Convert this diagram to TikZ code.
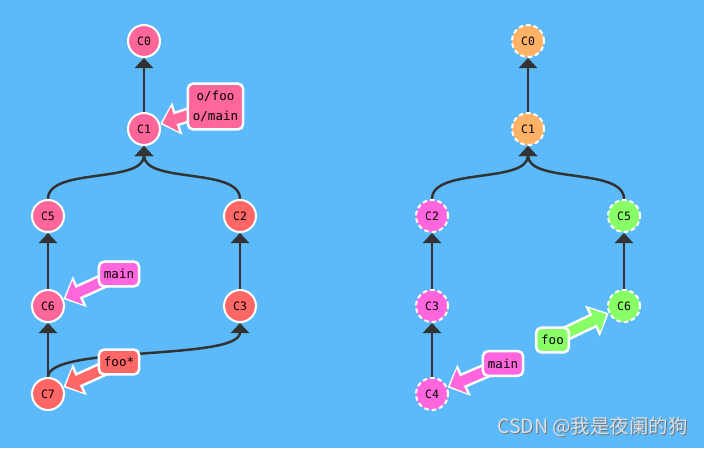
\documentclass[tikz,border=0pt]{standalone}
\usepackage{fontspec}
\setmonofont{DejaVu Sans Mono}
\newfontfamily\cjkfont{Noto Sans CJK SC}
\usetikzlibrary{arrows.meta,positioning}
\definecolor{sky}{HTML}{5DBAFA}
\definecolor{pinkc}{HTML}{FF6699}
\definecolor{redc}{HTML}{FF6666}
\definecolor{orangec}{HTML}{FFB266}
\definecolor{magc}{HTML}{FF66DD}
\definecolor{greenc}{HTML}{88FF66}
\definecolor{linkc}{HTML}{333333}
\definecolor{wmc}{HTML}{D8E0E8}
\pgfdeclarelayer{bg}
\pgfdeclarelayer{links}
\pgfsetlayers{bg,links,main}
\tikzstyle{commit}=[circle,draw=white,line width=2pt,minimum size=32pt,inner sep=0pt,font=\ttfamily\fontsize{11.5}{12}\selectfont]
\tikzstyle{remote}=[commit,dash pattern=on 4.5pt off 3pt]
\tikzstyle{branch}=[rectangle,rounded corners=5pt,draw=white,line width=2.5pt,inner xsep=5pt,inner ysep=7.5pt,align=center,font=\ttfamily\fontsize{12.5}{20}\selectfont]
\tikzstyle{parent}=[draw=linkc,line width=2.5pt,-{Triangle[length=10pt,width=18pt]}]
\tikzset{ptr/.style={draw=#1,line width=10pt,-{Triangle[length=13pt,width=26pt,line width=0pt]},shorten >=2.5pt,
    preaction={draw=white,line width=15pt,-{Triangle[length=18pt,width=34pt,line width=0pt]},shorten >=0pt}}}

\begin{document}
\begin{tikzpicture}[x=1pt,y=-1pt,line join=round]
	\useasboundingbox (0,0) rectangle (704,448);
	\begin{pgfonlayer}{bg}
	  \fill[sky] (0,0) rectangle (704,448);
	\end{pgfonlayer}
	%% left repo
	\node (lc0) at (144,41) [commit,fill=pinkc] {C0};
	  \node (lc1) at (144,129) [commit,fill=pinkc] {C1};
	  \node (lc5) at (48,216) [commit,fill=pinkc] {C5};
	  \node (lc2) at (240,216) [commit,fill=redc] {C2};
	  \node (lc6) at (48,306) [commit,fill=pinkc] {C6};
	  \node (lc3) at (240,306) [commit,fill=redc] {C3};
	  \node (lc7) at (48,394) [commit,fill=redc] {C7};
	  \node (lofoo) at (215.5,106.5) [branch,fill=pinkc] {o/foo\\o/main};
	  \node (lmain) at (119,274) [branch,fill=magc] {main};
	  \node (lfoo) at (119,362) [branch,fill=redc] {foo*};
	%% right repo
	\node (rc0) at (528,41) [remote,fill=orangec] {C0};
	  \node (rc1) at (528,129) [remote,fill=orangec] {C1};
	  \node (rc2) at (432,216) [remote,fill=magc] {C2};
	  \node (rc5) at (624,216) [remote,fill=greenc] {C5};
	  \node (rc3) at (432,306) [remote,fill=magc] {C3};
	  \node (rc6) at (624,306) [remote,fill=greenc] {C6};
	  \node (rc4) at (432,394) [remote,fill=magc] {C4};
	  \node (rmain) at (503,363.5) [branch,fill=magc] {main};
	  \node (rfoo) at (552.5,340) [branch,fill=greenc] {foo};
	%
	\begin{pgfonlayer}{links}
	  \draw [parent] (lc1) -- (lc0);
	  \draw [parent] (lc5.north) .. controls +(0,-32) and +(0,38) .. (lc1.south);
	  \draw [parent] (lc2.north) .. controls +(0,-32) and +(0,38) .. (lc1.south);
	  \draw [parent] (lc6) -- (lc5);
	  \draw [parent] (lc3) -- (lc2);
	  \draw [parent] (lc7) -- (lc6);
	  \draw [parent] (lc7.north) .. controls +(0,-32) and +(0,38) .. (lc3.south);
	  \draw [parent] (rc1) -- (rc0);
	  \draw [parent] (rc2.north) .. controls +(0,-32) and +(0,38) .. (rc1.south);
	  \draw [parent] (rc5.north) .. controls +(0,-32) and +(0,38) .. (rc1.south);
	  \draw [parent] (rc3) -- (rc2);
	  \draw [parent] (rc4) -- (rc3);
	  \draw [parent] (rc6) -- (rc5);
	  \draw [ptr=pinkc] (lofoo.center) -- (lc1);
	  \draw [ptr=magc] (lmain.center) -- (lc6);
	  \draw [ptr=redc] (lfoo.center) -- (lc7);
	  \draw [ptr=magc] (rmain.center) -- (rc4);
	  \draw [ptr=greenc] (rfoo.center) -- (rc6);
	\end{pgfonlayer}
	%
	\node (wmshadow) at (593.5,428) [text=black!55,font=\cjkfont\fontsize{19.5}{20}\selectfont] {CSDN @我是夜阑的狗};
	\node (wm) at (592.5,427) [text=wmc,font=\cjkfont\fontsize{19.5}{20}\selectfont] {CSDN @我是夜阑的狗};
\end{tikzpicture}
\end{document}
